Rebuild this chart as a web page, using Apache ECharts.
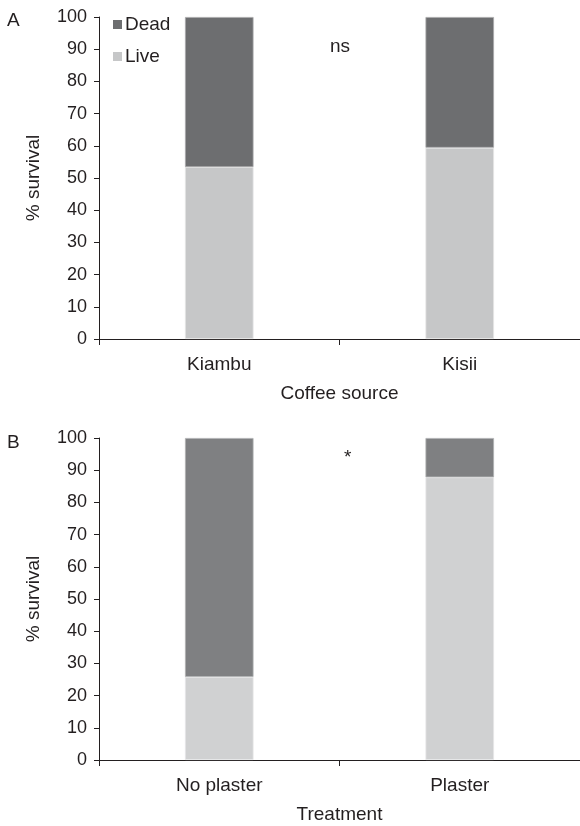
<!DOCTYPE html>
<html><head><meta charset="utf-8">
<script src="https://cdn.jsdelivr.net/npm/echarts@6/dist/echarts.min.js"></script>
<style>html,body{margin:0;padding:0;background:#fff}#c{width:580px;height:826px}</style>
</head><body><div id="c"></div>
<script>
const catsA = ['Kiambu', 'Kisii'];
const liveA = [53.4, 59.4];
const deadA = [46.6, 40.6];
const catsB = ['No plaster', 'Plaster'];
const liveB = [25.8, 87.8];
const deadB = [74.2, 12.2];
const yTicks = [0, 10, 20, 30, 40, 50, 60, 70, 80, 90, 100];

const FONT = '"Liberation Sans", Arial, sans-serif';
const chart = echarts.init(document.getElementById('c'), null, {renderer: 'canvas'});

function yAxis(gi) {
  return {
    gridIndex: gi, type: 'value', min: yTicks[0], max: yTicks[yTicks.length - 1], interval: 10,
    name: '% survival', nameLocation: 'middle', nameGap: 56,
    nameTextStyle: {fontFamily: FONT, fontSize: 19, color: '#231f20'},
    axisLine: {show: true, lineStyle: {color: '#231f20', width: 1}},
    axisTick: {show: true, length: 5, lineStyle: {color: '#231f20'}},
    axisLabel: {fontFamily: FONT, fontSize: 18, color: '#231f20', margin: 12},
    splitLine: {show: false}
  };
}
function xAxis(gi, cats, name) {
  return {
    gridIndex: gi, type: 'category', data: cats, boundaryGap: true,
    name: name, nameLocation: 'middle', nameGap: 45,
    nameTextStyle: {fontFamily: FONT, fontSize: 19, color: '#231f20'},
    axisLine: {show: true, lineStyle: {color: '#231f20', width: 1}},
    axisTick: {show: true, length: 6, interval: 0, alignWithLabel: false, lineStyle: {color: '#231f20'}},
    axisLabel: {fontFamily: FONT, fontSize: 19, color: '#231f20', margin: 16, interval: 0}
  };
}

const option = {
  animation: false,
  backgroundColor: '#fff',
  grid: [
    {left: 99, right: 0, top: 17, height: 322},
    {left: 99, right: 0, top: 438, height: 322}
  ],
  xAxis: [xAxis(0, catsA, 'Coffee source'), xAxis(1, catsB, 'Treatment')],
  yAxis: [yAxis(0), yAxis(1)],
  legend: {
    data: ['Dead', 'Live'], orient: 'vertical', left: 108, top: 10,
    itemWidth: 9, itemHeight: 9, itemGap: 13,
    icon: 'rect',
    itemStyle: {borderWidth: 0},
    textStyle: {fontFamily: FONT, fontSize: 19, color: '#231f20', padding: [0, 0, 0, -2]}
  },
  series: [
    {name: 'Live', type: 'bar', stack: 'a', xAxisIndex: 0, yAxisIndex: 0, data: liveA, barWidth: '28.5%',
     itemStyle: {color: '#c6c7c8', borderColor: '#e4e4e5', borderWidth: 0.8}},
    {name: 'Dead', type: 'bar', stack: 'a', xAxisIndex: 0, yAxisIndex: 0, data: deadA, barWidth: '28.5%',
     itemStyle: {color: '#6d6e70', borderColor: '#a9aaab', borderWidth: 0.8}},
    {name: 'Live', type: 'bar', stack: 'b', xAxisIndex: 1, yAxisIndex: 1, data: liveB, barWidth: '28.5%',
     itemStyle: {color: '#d0d1d2', borderColor: '#e6e6e7', borderWidth: 0.8}},
    {name: 'Dead', type: 'bar', stack: 'b', xAxisIndex: 1, yAxisIndex: 1, data: deadB, barWidth: '28.5%',
     itemStyle: {color: '#7f8082', borderColor: '#b0b1b2', borderWidth: 0.8}}
  ],
  graphic: [
    {type: 'text', left: 7, top: 11, style: {text: 'A', font: '19px ' + FONT, fill: '#231f20'}},
    {type: 'text', left: 7, top: 433, style: {text: 'B', font: '19px ' + FONT, fill: '#231f20'}},
    {type: 'text', left: 330, top: 37, style: {text: 'ns', font: '19px ' + FONT, fill: '#231f20'}},
    {type: 'text', left: 344, top: 448, style: {text: '*', font: '19px ' + FONT, fill: '#231f20'}}
  ]
};
chart.setOption(option);
</script>
</body></html>
